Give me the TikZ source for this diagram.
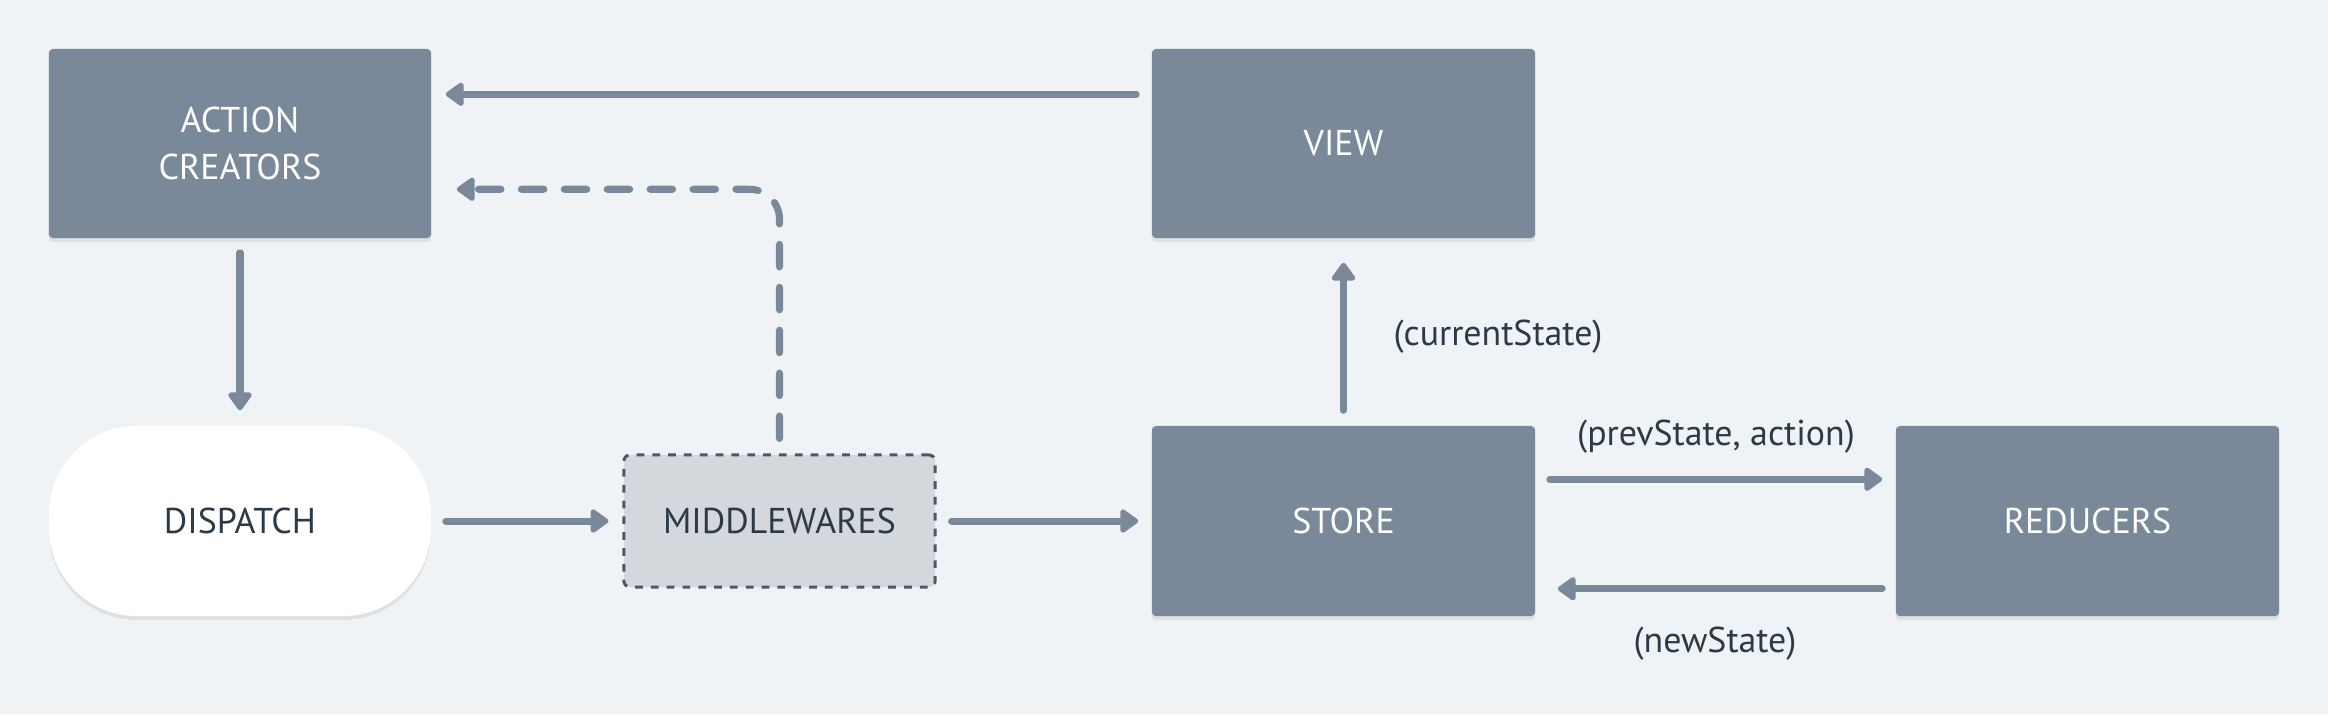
\documentclass[tikz,border=0pt]{standalone}
\usepackage{fontspec}
\setmainfont{PT Sans}
\usetikzlibrary{arrows.meta,shadows,calc}
\definecolor{bg}{HTML}{EFF3F6}
\definecolor{slate}{HTML}{7A8999}
\definecolor{ink}{HTML}{2C3A47}
\definecolor{mwfill}{HTML}{D4D8DC}
\definecolor{mwline}{HTML}{4B5967}
\begin{document}
\begin{tikzpicture}[x=0.01cm,y=-0.01cm,
  txt/.style={font=\fontsize{10.2}{13.4}\selectfont},
  shad/.style={drop shadow={shadow xshift=0pt,shadow yshift=-1.1pt,opacity=0.07,fill=black}},
  box/.style={txt,rectangle,rounded corners=0.04cm,fill=slate,text=white,inner sep=0pt,align=center,shad},
  pill/.style={txt,rectangle,rounded corners=0.88cm,fill=white,text=ink,inner sep=0pt,align=center,shad,minimum width=3.82cm,minimum height=1.9cm},
  mwbox/.style={txt,rectangle,rounded corners=0.06cm,fill=mwfill,draw=mwline,line width=0.85pt,dash pattern=on 2.2pt off 2.3pt,text=ink,inner sep=0pt,minimum width=3.11cm,minimum height=1.32cm},
  arr/.style={draw=slate,line width=2pt,line cap=round,-{Triangle[length=5.6pt,width=7.6pt,round]}},
  dasharr/.style={arr,dash pattern=on 6.4pt off 5.8pt,rounded corners=0.3cm},
  lbl/.style={txt,text=ink,inner sep=0pt}
]
\fill[bg] (0,0) rectangle (2328,714);
\useasboundingbox (0,0) rectangle (2328,714);

\node[box,minimum width=3.82cm,minimum height=1.89cm] (ac) at (240,143.5) {ACTION\\CREATORS};
\node[box,minimum width=3.83cm,minimum height=1.89cm] (view) at (1343.5,143.5) {VIEW};
\node[pill] (dispatch) at (240,521) {DISPATCH};
\node[mwbox] (mw) at (779.5,521) {MIDDLEWARES};
\node[box,minimum width=3.83cm,minimum height=1.90cm] (store) at (1343.5,521) {STORE};
\node[box,minimum width=3.83cm,minimum height=1.90cm] (red) at (2087.5,521) {REDUCERS};

% view -> action creators
\draw[arr] ([shift={(-15,46)}]view.north west) -- ([shift={(14,46)}]ac.north east);
% middlewares -> action creators (dashed)
\coordinate (mwtop) at ([shift={(0,-15)}]mw.north);
\draw[dasharr] (mwtop) |- ([shift={(25,141)}]ac.north east);
% action creators -> dispatch
\draw[arr] ([shift={(0,14)}]ac.south) -- ([shift={(0,-15)}]dispatch.north);
% dispatch -> middlewares
\draw[arr] ([shift={(14,0)}]dispatch.east) -- ([shift={(-14,0)}]mw.west);
% middlewares -> store
\draw[arr] ([shift={(15,0)}]mw.east) -- ([shift={(-13,0)}]store.west);
% store -> view
\draw[arr] ([shift={(0,-15)}]store.north) -- ([shift={(0,24)}]view.south);
% store -> reducers
\draw[arr] ([shift={(14,54)}]store.north east) -- ([shift={(-13,54)}]red.north west);
% reducers -> store
\draw[arr] ([shift={(-13,-28)}]red.south west) -- ([shift={(22,-28)}]store.south east);

\node[lbl,anchor=west] (lcur) at (1393,337) {(currentState)};
\node[lbl] (lprev) at (1716,437) {(prevState, action)};
\node[lbl] (lnew) at (1715,644) {(newState)};
\end{tikzpicture}
\end{document}
